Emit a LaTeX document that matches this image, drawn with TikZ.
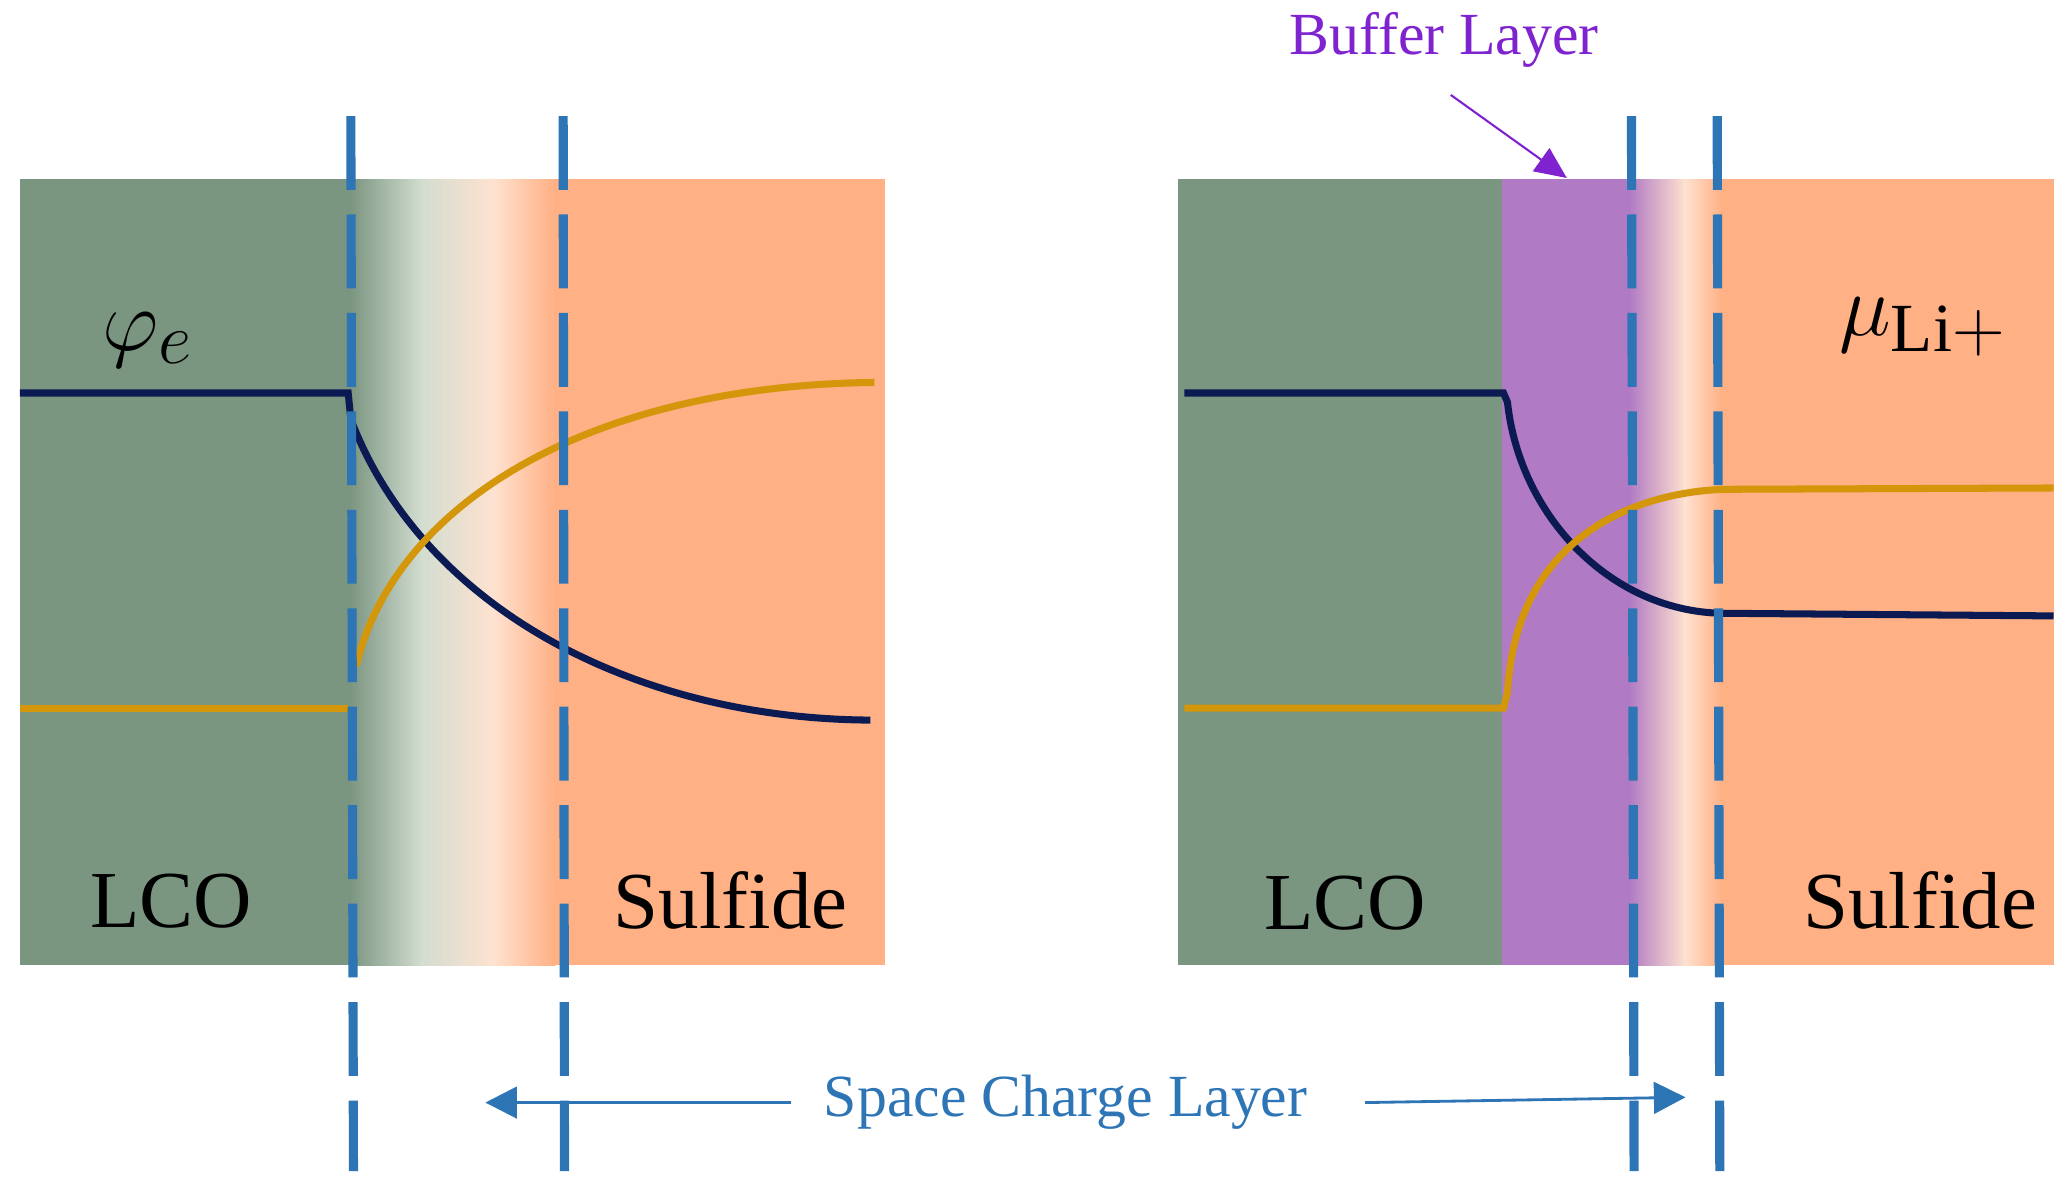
\documentclass[tikz,border=0pt]{standalone}
\usepackage{fontspec}
\setmainfont{Liberation Serif}
\usetikzlibrary{arrows.meta}
\definecolor{lco}{HTML}{7A9580}
\definecolor{sulf}{HTML}{FFB084}
\definecolor{pale}{HTML}{FFE2D0}
\definecolor{greenpale}{HTML}{D2DDD0}
\definecolor{buf}{HTML}{B07AC4}
\definecolor{dblue}{HTML}{2E75B6}
\definecolor{navy}{HTML}{0B1A52}
\definecolor{gold}{HTML}{D4960A}
\definecolor{bpurple}{HTML}{7F22CF}
\begin{document}
\begin{tikzpicture}[x=0.01319cm,y=-0.01319cm,
  dline/.style={dblue,line width=2.6pt,dash pattern=on 21pt off 7pt},
  big/.style={font=\fontsize{23}{26}\selectfont},
  mathbig/.style={font=\fontsize{28}{30}\selectfont},
  curveN/.style={navy,line width=2pt},
  curveO/.style={gold,line width=2pt}]
\useasboundingbox (0,0) rectangle (1568,900);
% left panel
\fill[lco] (15,136) rectangle (266,732);
\shade[left color=lco,right color=greenpale] (265,136) rectangle (320,732);
\shade[left color=greenpale,right color=pale] (319,136) rectangle (375,732);
\shade[left color=pale,right color=sulf] (374,136) rectangle (421,732);
\fill[sulf] (420,136) rectangle (671,732);
% right panel
\fill[lco] (893,136) rectangle (1140,732);
\fill[buf] (1139,136) rectangle (1236,732);
\shade[left color=buf,right color=pale] (1235,136) rectangle (1278,732);
\shade[left color=pale,right color=sulf] (1277,136) rectangle (1306,732);
\fill[sulf] (1305,136) rectangle (1557,732);
% curves left
\draw[curveN] (15,298) -- (264,298) -- (266,318) .. controls (320,460) and (480,545) .. (660,546);
\draw[curveO] (15,537) -- (264,537);
\draw[curveO] (270,505) .. controls (300,380) and (450,292) .. (663,290);
% curves right
\draw[curveN] (898,298) -- (1140,298) -- (1143,305) .. controls (1152,390) and (1220,463) .. (1305,465) -- (1557,467);
\draw[curveO] (898,537) -- (1140,537) -- (1143,525) .. controls (1150,400) and (1250,372) .. (1310,371) -- (1557,370);
% dashed lines
\draw[dline] (266,88) -- (268,888);
\draw[dline] (427,88) -- (428,888);
\draw[dline] (1237,88) -- (1239,888);
\draw[dline] (1302,88) -- (1304,888);
% labels
\node[mathbig] (phi) at (112,258) {$\varphi_e$};
\node[mathbig] (mu) at (1458,248) {$\mu_{\mathrm{Li+}}$};
\node[big] (lco1) at (130,683) {LCO};
\node[big] (sul1) at (554,683) {Sulfide};
\node[big] (lco2) at (1020,685) {LCO};
\node[big] (sul2) at (1456,683) {Sulfide};
\node[bpurple,font=\fontsize{17}{20}\selectfont] (buftxt) at (1095,30) {Buffer Layer};
\coordinate (bufarr) at (1188,135);
\draw[bpurple,line width=0.6pt,-{Triangle[length=9pt,width=8pt]}] (1100,72) -- (bufarr);
\node[dblue,font=\fontsize{17}{20}\selectfont] (scl) at (808,836) {Space Charge Layer};
\coordinate (sclL) at (368,836);
\coordinate (sclR) at (1278,832);
\draw[dblue,line width=0.8pt,-{Triangle[length=9pt,width=9pt]}] (600,836) -- (sclL);
\draw[dblue,line width=0.8pt,-{Triangle[length=9pt,width=9pt]}] (1035,836) -- (sclR);
\end{tikzpicture}
\end{document}
